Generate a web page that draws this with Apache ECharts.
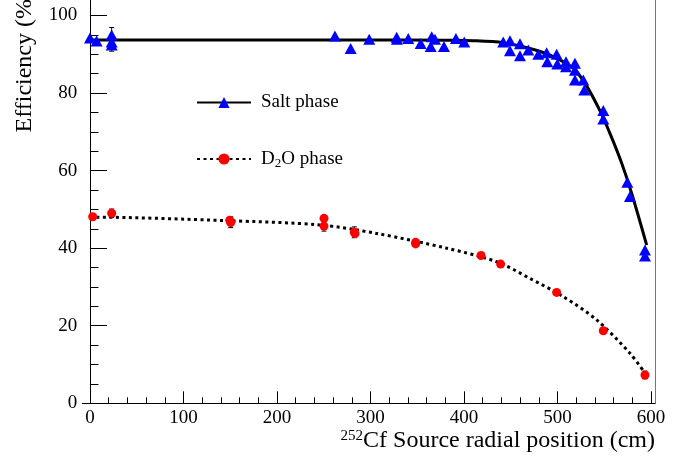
<!DOCTYPE html>
<html><head><meta charset="utf-8">
<script src="https://cdn.jsdelivr.net/npm/echarts@6/dist/echarts.min.js"></script>
<style>html,body{margin:0;padding:0;background:#fff}#c{width:686px;height:461px}</style>
</head><body><div id="c"></div>
<script>
// ---- Data ----
const saltX = [0, 7.1, 23.2, 23.2, 23.2, 262.0, 278.8, 298.7, 328.0, 328.3, 340.4, 353.7, 365.5, 364.4, 369.0, 378.6, 391.4, 400.3, 442.0, 449.2, 449.2, 459.9, 459.9, 468.8, 479.5, 488.4, 489.1, 499.1, 499.8, 509.1, 509.1, 518.7, 518.7, 518.7, 527.6, 528.7, 549.0, 549.0, 574.7, 577.5, 593.6, 593.6];
const saltY = [94.2, 93.4, 95.0, 93.2, 92.4, 94.7, 91.5, 93.9, 94.4, 93.9, 94.1, 92.8, 94.5, 92.0, 93.9, 92.0, 94.1, 93.2, 93.2, 93.5, 90.9, 92.7, 89.6, 91.1, 90.0, 90.4, 88.1, 90.0, 87.5, 88.1, 86.8, 87.7, 85.9, 83.4, 83.4, 80.8, 75.5, 73.3, 57.0, 53.3, 39.5, 38.0];
const d2oX = [2.9, 23.2, 149.5, 150.5, 250.3, 250.3, 282.7, 283.5, 348.3, 348.3, 418.2, 439.2, 499.1, 549.0, 593.6];
const d2oY = [48.1, 49.0, 47.2, 46.6, 47.7, 45.7, 44.1, 43.8, 41.5, 41.1, 38.1, 35.9, 28.6, 18.7, 7.3];
// fitted curves
const saltFitX = [0, 100, 200, 300, 380, 410, 442, 470.6, 492, 516.9, 530, 545.5, 556.1, 568.7, 579.4, 595.4];
const saltFitY = [93.7, 93.7, 93.7, 93.7, 93.6, 93.5, 93.0, 91.5, 89.8, 86.4, 82.3, 75.4, 69.6, 61.9, 54.1, 40.8];
const d2oFitX = [0, 3.5, 146.2, 246.0, 306.6, 381.5, 435.0, 470.6, 506.2, 541.9, 577.5, 595.4];
const d2oFitY = [48.0, 48.0, 47.1, 46.0, 43.8, 40.0, 36.5, 32.2, 27.5, 21.5, 12.9, 7.2];
// error bars
const errX = [23.2, 23.2, 150.5, 250.3, 282.7, 593.6];
const errLow = [90.8, 47.9, 45.3, 44.4, 42.7, 6.3];
const errHigh = [96.9, 50.1, 48.1, 47.0, 45.5, 8.3];
// ticks
const xMajor = [0, 100, 200, 300, 400, 500, 600];
const yMajor = [0, 20, 40, 60, 80, 100];
const xMinor = [20,40,60,80,120,140,160,180,220,240,260,280,320,340,360,380,420,440,460,480,520,540,560,580];
const yMinor = [5,10,15,25,30,35,45,50,55,65,70,75,85,90,95];

const FONT = 'Liberation Serif';
const zip = (a, b) => a.map((v, i) => [v, b[i]]);
const errData = errX.map((x, i) => [x, errLow[i], errHigh[i]]);

const chart = echarts.init(document.getElementById('c'));
const X_MIN = -8.2, X_MAX = 604.3, Y_MIN = 0, Y_MAX = 104;

const baseX = {type: 'value', min: X_MIN, max: X_MAX, position: 'bottom', splitLine: {show: false}};
const baseY = {type: 'value', min: Y_MIN, max: Y_MAX, splitLine: {show: false}};

chart.setOption({
  animation: false,
  backgroundColor: '#fff',
  grid: {left: 82.3, right: 31, top: 0, bottom: 57.7, containLabel: false, outerBoundsMode: 'none'},
  xAxis: [
    Object.assign({}, baseX, {
      axisLine: {show: true, lineStyle: {color: '#000', width: 1}},
      axisTick: {show: true, inside: true, length: 12, customValues: xMajor, lineStyle: {color: '#000'}},
      axisLabel: {show: true, customValues: xMajor, margin: 5, fontFamily: FONT, fontSize: 19, color: '#000'}
    }),
    Object.assign({}, baseX, {
      axisLine: {show: false},
      axisTick: {show: true, inside: true, length: 6, customValues: xMinor, lineStyle: {color: '#000'}},
      axisLabel: {show: false}
    })
  ],
  yAxis: [
    Object.assign({}, baseY, {
      position: 'left',
      axisLine: {show: true, lineStyle: {color: '#000', width: 1}},
      axisTick: {show: true, inside: true, length: 17, customValues: yMajor, lineStyle: {color: '#000'}},
      axisLabel: {show: true, customValues: yMajor, margin: 5, fontFamily: FONT, fontSize: 19, color: '#000'}
    }),
    Object.assign({}, baseY, {
      position: 'left',
      axisLine: {show: false},
      axisTick: {show: true, inside: true, length: 8.5, customValues: yMinor, lineStyle: {color: '#000'}},
      axisLabel: {show: false}
    }),
    Object.assign({}, baseY, {
      position: 'right',
      axisLine: {show: true, lineStyle: {color: '#777', width: 1}},
      axisTick: {show: false},
      axisLabel: {show: false}
    })
  ],
  legend: {
    orient: 'vertical', left: 191, top: 88, itemWidth: 54, itemHeight: 14, itemGap: 36,
    data: ['Salt phase', 'D2O phase'],
    formatter: n => n === 'D2O phase' ? '{n|D}{s|2}{n|O phase}' : '{n|' + n + '}',
    textStyle: {
      padding: [0, 0, 0, 5],
      rich: {
        n: {fontFamily: FONT, fontSize: 19, color: '#000', lineHeight: 22},
        s: {fontFamily: FONT, fontSize: 13, color: '#000', lineHeight: 22, padding: [9, 0, 0, 0]}
      }
    }
  },
  graphic: [
    {type: 'text', x: 25, y: -9, rotation: Math.PI / 2,
     style: {text: 'Efficiency (%)', fontFamily: FONT, fontSize: 24, fill: '#000', align: 'right', verticalAlign: 'middle'}},
    {type: 'text', x: 655, y: 441,
     style: {text: '{sup|252}{m|Cf Source radial position (cm)}', align: 'right', verticalAlign: 'middle',
       rich: {
         m: {fontFamily: FONT, fontSize: 24, fill: '#000', lineHeight: 28},
         sup: {fontFamily: FONT, fontSize: 15, fill: '#000', lineHeight: 28, padding: [0, 0, 10, 0]}
       }}}
  ],
  series: [
    {name: 'Salt phase', type: 'line', data: zip(saltFitX, saltFitY), smooth: 0.3,
     symbol: 'triangle', symbolSize: [12, 11], showSymbol: false, z: 2,
     itemStyle: {color: '#0000ff'}, lineStyle: {color: '#000', width: 3, type: 'solid'}},
    {name: 'D2O phase', type: 'line', data: zip(d2oFitX, d2oFitY), smooth: 0.3,
     symbol: 'circle', symbolSize: 9, showSymbol: false, z: 2,
     itemStyle: {color: '#ff0000'}, lineStyle: {color: '#000', width: 3, type: [3, 3.5]}},
    {type: 'custom', data: errData, z: 3,
     renderItem: (params, api) => {
       const x = api.value(0);
       const lo = api.coord([x, api.value(1)]);
       const hi = api.coord([x, api.value(2)]);
       const c = 2.5;
       return {type: 'group', children: [
         {type: 'line', shape: {x1: lo[0], y1: lo[1], x2: hi[0], y2: hi[1]}, style: {stroke: '#000', lineWidth: 1}},
         {type: 'line', shape: {x1: lo[0] - c, y1: lo[1], x2: lo[0] + c, y2: lo[1]}, style: {stroke: '#000', lineWidth: 1}},
         {type: 'line', shape: {x1: hi[0] - c, y1: hi[1], x2: hi[0] + c, y2: hi[1]}, style: {stroke: '#000', lineWidth: 1}}
       ]};
     }},
    {name: 'Salt points', type: 'scatter', data: zip(saltX, saltY), symbol: 'triangle', symbolSize: [12, 11], z: 4,
     itemStyle: {color: '#0000ff', opacity: 1}},
    {name: 'D2O points', type: 'scatter', data: zip(d2oX, d2oY), symbol: 'circle', symbolSize: 9, z: 4,
     itemStyle: {color: '#ff0000', opacity: 1}}
  ]
});
</script>
</body></html>
